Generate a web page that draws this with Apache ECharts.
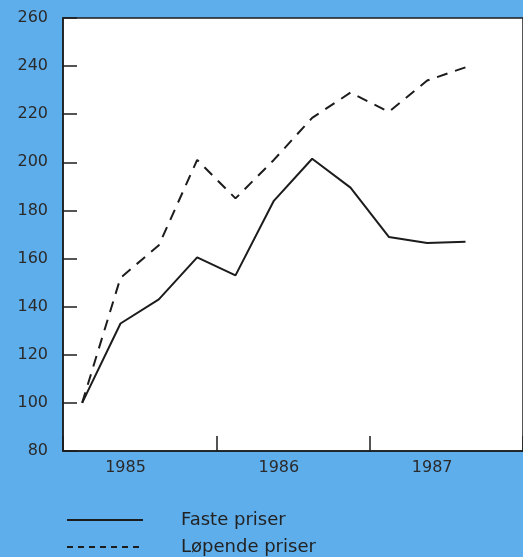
<!DOCTYPE html>
<html>
<head>
<meta charset="utf-8">
<script src="https://cdn.jsdelivr.net/npm/echarts@6/dist/echarts.min.js"></script>
<style>
html,body{margin:0;padding:0;background:#5eaeec;}
#c{width:523px;height:557px;}
</style>
</head>
<body>
<div id="c"></div>
<script>
const quarters = ['1985-1','1985-2','1985-3','1985-4','1986-1','1986-2','1986-3','1986-4','1987-1','1987-2','1987-3','1987-4'];
const fastePriser = [100, 133, 143, 160.5, 153, 184, 201.5, 189.5, 169, 166.5, 167];
const lopendePriser = [100, 152, 165.5, 201, 185, 201, 218.5, 229, 221, 234, 239.5];
const yTicks = [80, 100, 120, 140, 160, 180, 200, 220, 240, 260];
const seriesNames = ['Faste priser', 'Løpende priser'];

const chart = echarts.init(document.getElementById('c'));
const ink = '#1c1c1c';
const legendBase = {
  orient: 'vertical',
  left: 66, padding: 0,
  itemWidth: 76, itemHeight: 14,
  itemStyle: { opacity: 0 },
  textStyle: { color: '#222', fontFamily: 'DejaVu Sans', fontSize: 18, padding: [0, 0, 0, 33] }
};
chart.setOption({
  backgroundColor: '#5eaeec',
  animation: false,
  grid: {
    left: 63, right: -11, top: 18, bottom: 106,
    show: true, backgroundColor: '#ffffff', borderColor: ink, borderWidth: 1.5
  },
  xAxis: {
    type: 'category',
    data: quarters,
    boundaryGap: true,
    axisLine: { show: true, lineStyle: { color: ink, width: 1.5 } },
    axisTick: {
      show: true, inside: true, length: 15,
      interval: function (i) { return i % 4 === 0; },
      lineStyle: { color: ink, width: 1.5 }
    },
    axisLabel: {
      interval: function (i) { return i % 4 === 1; },
      formatter: function (v) { return v.slice(0, 4); },
      color: '#2a2a2a', fontFamily: 'DejaVu Sans', fontSize: 16, margin: 9,
      padding: [0, 0, 0, 10]
    },
    splitLine: { show: false }
  },
  yAxis: {
    type: 'value',
    min: yTicks[0], max: yTicks[yTicks.length - 1], interval: 20,
    axisLine: { show: true, lineStyle: { color: ink, width: 1.5 } },
    axisTick: { show: true, inside: true, length: 14, lineStyle: { color: ink, width: 1.5 } },
    axisLabel: { color: '#2a2a2a', fontFamily: 'DejaVu Sans', fontSize: 16, margin: 15 },
    splitLine: { show: false }
  },
  legend: [
    Object.assign({}, legendBase, { top: 511, data: [{ name: seriesNames[0] }] }),
    Object.assign({}, legendBase, { top: 538, data: [{ name: seriesNames[1], lineStyle: { type: [6, 5] } }] })
  ],
  series: [
    {
      name: seriesNames[0], type: 'line', data: fastePriser,
      symbol: 'none', lineStyle: { color: ink, width: 2 }, itemStyle: { color: ink }
    },
    {
      name: seriesNames[1], type: 'line', data: lopendePriser,
      symbol: 'none', lineStyle: { color: ink, width: 2, type: [11, 8] }, itemStyle: { color: ink }
    }
  ]
});
</script>
</body>
</html>
